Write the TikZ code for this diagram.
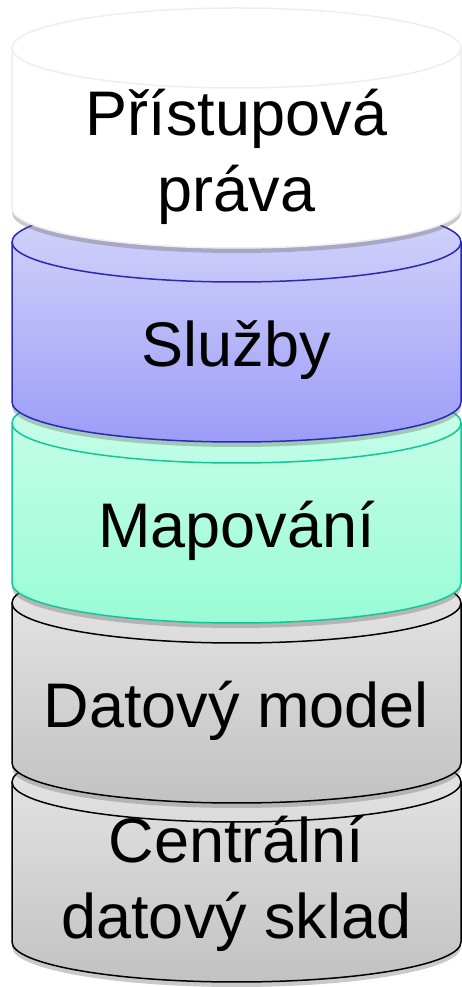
\documentclass[tikz,border=0pt]{standalone}
\usepackage{fontspec}
\setmainfont{Liberation Sans}
\usetikzlibrary{shadows}
\definecolor{bluetop}{HTML}{D6D6FB}
\definecolor{bluebot}{HTML}{9C9CF8}
\definecolor{blueedge}{HTML}{2A2AB0}
\definecolor{greentop}{HTML}{CCFDEB}
\definecolor{greenbot}{HTML}{99FCD6}
\definecolor{greenedge}{HTML}{10C896}
\definecolor{graytop}{HTML}{E8E8E8}
\definecolor{graybot}{HTML}{C2C2C2}
\definecolor{whiteedge}{HTML}{EEEEEE}
\tikzset{
 layer/.style={font=\fontsize{63}{76}\selectfont,align=center,anchor=base},
 cylshadow/.style={drop shadow={shadow xshift=0pt,shadow yshift=-5pt,opacity=0.35,fill=black!60}}
}
\begin{document}
\begin{tikzpicture}[x=1pt,y=1pt]
 \useasboundingbox (0,0) rectangle (462,987);
 % cylinders from the bottom up: top of side / bottom of side / colours
 \foreach \yt/\yb/\ctop/\cbot/\cedge in {205/45/graytop/graybot/black,384/224/graytop/graybot/black,564/404/greentop/greenbot/greenedge,745/585/bluetop/bluebot/blueedge,939/779/white/white/whiteedge}{
  \path[cylshadow,top color=\ctop,bottom color=\cbot,draw=\cedge,line width=1.5pt]
   (12,\yt) -- (12,\yb) arc[start angle=180,end angle=360,x radius=224.5,y radius=40]
   -- (461,\yt) arc[start angle=0,end angle=180,x radius=224.5,y radius=40] -- cycle;
  \draw[\cedge,line width=1.5pt] (12,\yt) arc[start angle=180,end angle=360,x radius=224.5,y radius=40];
 }
 % base of a two-line label is the baseline of its last line
 \node[layer] (rights) at (236.5,775) {Přístupová\\práva};
 \node[layer] (services) at (236.5,620) {Služby};
 \node[layer] (mapping) at (236.5,439) {Mapování};
 \node[layer] (model) at (236.5,259) {Datový model};
 \node[layer] (store) at (236.5,48) {Centrální\\datový sklad};
\end{tikzpicture}
\end{document}
